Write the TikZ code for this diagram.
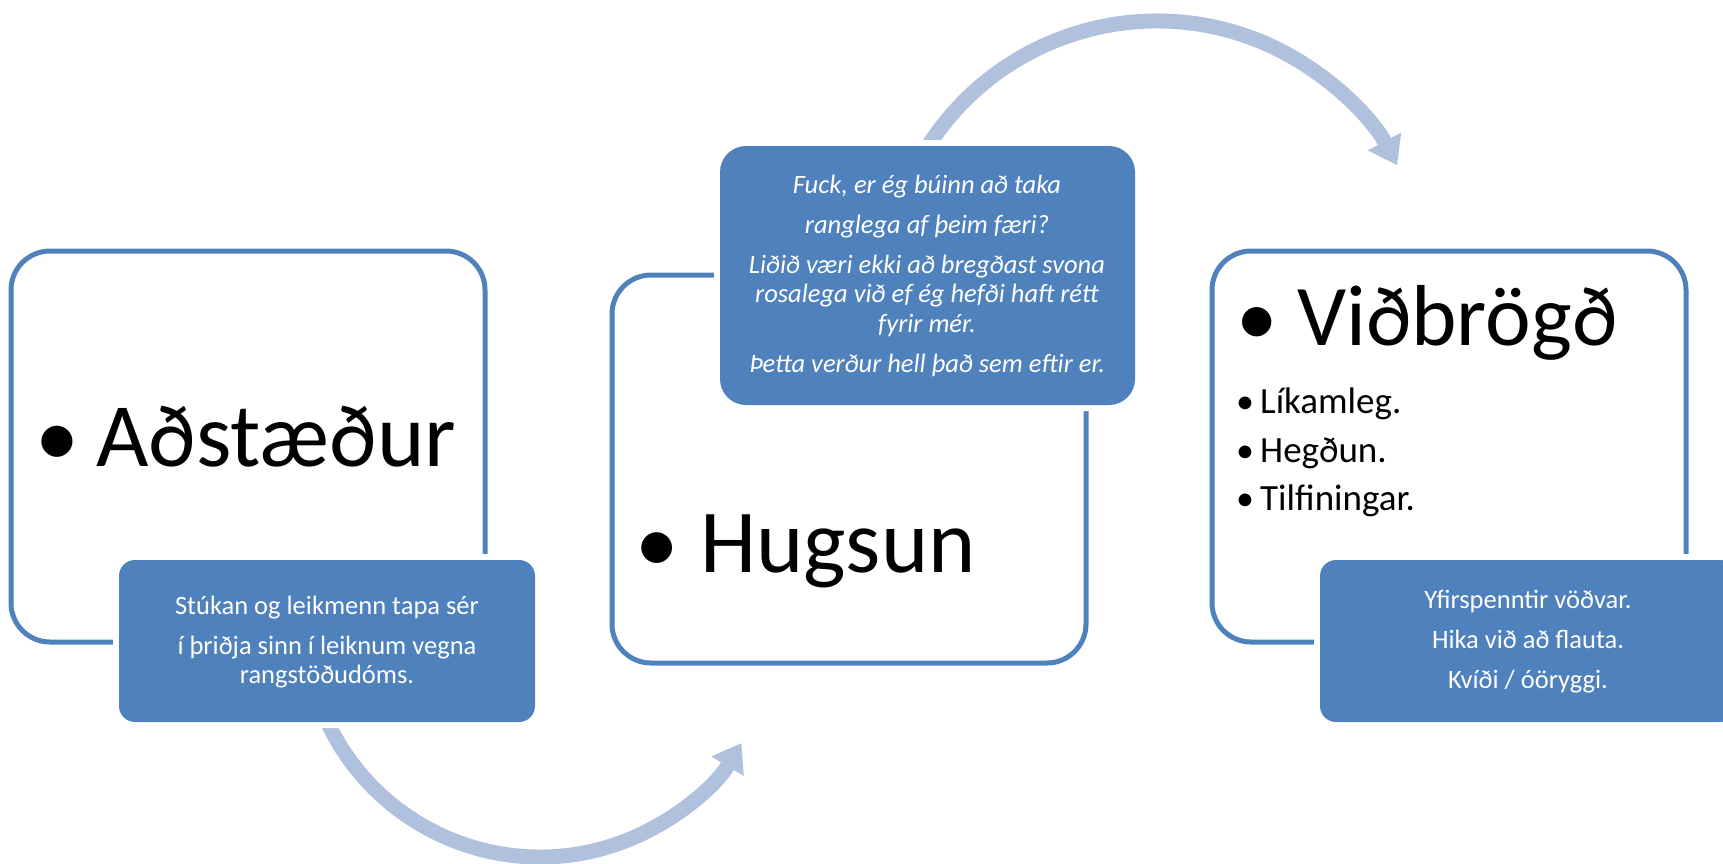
\documentclass[tikz,border=0pt]{standalone}
\usepackage{fontspec}
\setmainfont{Carlito}
\usetikzlibrary{arrows.meta}
\definecolor{accentblue}{RGB}{79,129,189}
\definecolor{arrowblue}{RGB}{176,193,221}
\begin{document}
\begin{tikzpicture}[x=1pt,y=-1pt,
  framebox/.style={draw=accentblue, line width=5pt, fill=white, rounded corners=39pt, inner sep=0pt},
  notebox/.style={fill=accentblue, rounded corners=#1, inner sep=0pt, preaction={draw=white, line width=12pt}},
  cyclearrow/.style={draw=arrowblue, line width=15pt, -{Triangle[width=36pt,length=27pt]}},
  notetext/.style={text=white, inner sep=0pt, anchor=base, font=\fontsize{26.5}{29}\selectfont},
  noteital/.style={notetext, font=\fontsize{26.5}{29}\selectfont\itshape},
  bigtext/.style={inner sep=0pt, anchor=base west, font=\fontsize{#1}{#1}\selectfont},
  bigbullet/.style={inner sep=0pt, anchor=base, font=\fontsize{#1}{#1}\selectfont},
]
\useasboundingbox (0,0) rectangle (1723,863);
\clip (0,0) rectangle (1723,863);

% cycle arrows
\coordinate (lowcentre) at (540,622);
\coordinate (highcentre) at (1157,293);
\draw[cyclearrow] (lowcentre) ++(158:235) arc[start angle=158, end angle=31, radius=235];
\draw[cyclearrow] (highcentre) ++(209:272) arc[start angle=209, end angle=332, radius=272];

% main frames
\node[framebox, minimum width=474pt, minimum height=391pt] (sitframe) at (248,446.5) {};
\node[framebox, minimum width=474pt, minimum height=388pt] (thoughtframe) at (849,469) {};
\node[framebox, minimum width=474pt, minimum height=391pt] (reactframe) at (1449,446.5) {};

% note boxes
\node[notebox=16pt, minimum width=416pt, minimum height=162pt] (sitnote) at (327,641) {};
\node[notebox=26pt, minimum width=415pt, minimum height=259pt] (thoughtnote) at (927.5,275.5) {};
\node[notebox=16pt, minimum width=416pt, minimum height=162pt] (reactnote) at (1528,641) {};

% main labels
\node[bigbullet=88] (sitbullet) at (57,466) {•};
\node[bigtext=90.5] (sitlabel) at (96,466) {Aðstæður};
\node[bigbullet=87] (thoughtbullet) at (657,572) {•};
\node[bigtext=90] (thoughtlabel) at (700,572) {Hugsun};
\node[bigbullet=83] (reactbullet) at (1257,345) {•};
\node[bigtext=86.5] (reactlabel) at (1297,345) {Viðbrögð};
\node[bigbullet=36] (subbulletA) at (1245,413) {•};
\node[bigtext=37] (subA) at (1260,413) {Líkamleg.};
\node[bigbullet=36] (subbulletB) at (1245,462) {•};
\node[bigtext=37] (subB) at (1260,462) {Hegðun.};
\node[bigbullet=36] (subbulletC) at (1245,510) {•};
\node[bigtext=37] (subC) at (1260,510) {Tilfiningar.};

% note texts
\node[notetext] (sitl1) at (327,614) {Stúkan og leikmenn tapa sér};
\node[notetext] (sitl2) at (327,654) {í þriðja sinn í leiknum vegna};
\node[notetext] (sitl3) at (327,683) {rangstöðudóms.};

\node[noteital] (thl1) at (927,193) {Fuck, er ég búinn að taka};
\node[noteital] (thl2) at (927,233) {ranglega af þeim færi?};
\node[noteital] (thl3) at (927,273) {Liðið væri ekki að bregðast svona};
\node[noteital] (thl4) at (927,302) {rosalega við ef ég hefði haft rétt};
\node[noteital] (thl5) at (927,332) {fyrir mér.};
\node[noteital] (thl6) at (927,372) {Þetta verður hell það sem eftir er.};

\node[notetext] (rel1) at (1528,608) {Yfirspenntir vöðvar.};
\node[notetext] (rel2) at (1528,648) {Hika við að flauta.};
\node[notetext] (rel3) at (1528,688) {Kvíði / óöryggi.};
\end{tikzpicture}
\end{document}
